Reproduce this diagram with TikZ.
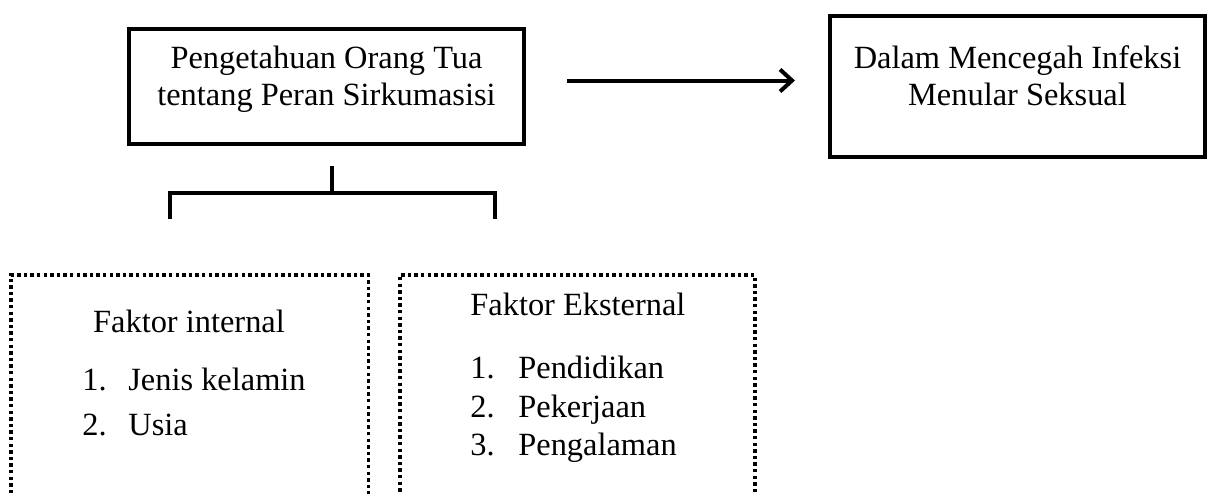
\documentclass[tikz,border=0pt]{standalone}
\usepackage{fontspec}
\setmainfont{Liberation Serif}
\usepackage{tikz}
\usetikzlibrary{positioning,arrows.meta}

\begin{document}
\begin{tikzpicture}[x=0.5pt, y=-0.5pt, >={Straight Barb[length=6pt,width=11pt]},
    font=\fontsize{16.2}{18.5}\selectfont,
    mainbox/.style={draw, rectangle, line width=2pt, inner sep=0pt},
    factorbox/.style={draw, rectangle, line width=1.7pt, dash pattern=on 1.7pt off 1.6pt, minimum height=122.5pt, inner sep=0pt},
    conn/.style={line width=2pt},
    item/.style={anchor=base west, inner sep=0pt}]

        \useasboundingbox (0,0) rectangle (1213,493);
        \clip (0,0) rectangle (1213,493);

        % Main boxes
        \node[mainbox, minimum width=197.5pt, minimum height=57.5pt] (know) at (326.5,86.5) {};
        \node[mainbox, minimum width=187.5pt, minimum height=70.5pt, right=151pt of know] (prevent) {};
        \node[align=center, inner sep=0pt] (knowtext) at ([yshift=3.5pt]know.center) {\strut Pengetahuan Orang Tua\\tentang Peran Sirkumasisi\strut};
        \node[align=center, inner sep=0pt] (preventtext) at ([yshift=3.5pt]prevent.center) {\strut Dalam Mencegah Infeksi\\Menular Seksual\strut};

        % Arrow between the boxes
        \draw[conn, ->, shorten <=20.5pt, shorten >=16.5pt] ([yshift=3pt]know.east) -- ([yshift=3pt]prevent.west);

        % Bracket down to the factors
        \coordinate (fork) at (332,193);
        \coordinate (legL) at (170,219);
        \coordinate (legR) at (495,219);
        \draw[conn] ([xshift=2.75pt,yshift=-10pt]know.south) -- (fork);
        \draw[conn] (legL) |- (fork) -| (legR);

        % Dotted factor boxes (open at the bottom edge)
        \node[factorbox, minimum width=178.75pt] (internal) at (189.75,397.5) {};
        \node[factorbox, minimum width=177.5pt] (external) at (577.5,397.5) {};

        % Internal factors
        \node[anchor=base, inner sep=0pt] (inthead) at (189,332) {Faktor internal};
        \node[item] (int1) at (82,390) {\makebox[23pt][l]{1.}Jenis kelamin};
        \node[item] (int2) at (82,435) {\makebox[23pt][l]{2.}Usia};

        % External factors
        \node[item] (exthead) at (470,315) {Faktor Eksternal};
        \node[item] (ext1) at (470,378) {\makebox[24pt][l]{1.}Pendidikan};
        \node[item] (ext2) at (470,417) {\makebox[24pt][l]{2.}Pekerjaan};
        \node[item] (ext3) at (470,455) {\makebox[24pt][l]{3.}Pengalaman};
    \end{tikzpicture}
\end{document}
